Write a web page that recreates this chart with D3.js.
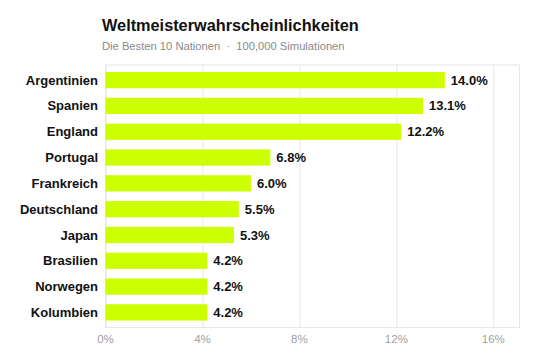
<!DOCTYPE html>
<html>

<head>
  <script src="https://d3js.org/d3.v7.min.js"></script>
  <style>
    body { margin: 0; background: #fff; }
    text { font-family: "Liberation Sans", Arial, Helvetica, sans-serif; }
    .grid line { stroke: #e6e6e6; stroke-width: 1; }
    .grid path { display: none; }
  </style>
</head>

<body>
  <script>
    const width = 540;
    const height = 360;

    // Daten
    const nations = ["Argentinien", "Spanien", "England", "Portugal", "Frankreich",
      "Deutschland", "Japan", "Brasilien", "Norwegen", "Kolumbien"];
    const chances = [14.0, 13.1, 12.2, 6.8, 6.0, 5.5, 5.3, 4.2, 4.2, 4.2];
    const xTicks = [0, 4, 8, 12, 16];

    const margin = { top: 65, right: 20.5, bottom: 32.5, left: 105.5 };

    const svg = d3.select("body")
      .append("svg")
      .attr("width", width)
      .attr("height", height);

    const x = d3.scaleLinear()
      .domain([0, d3.max(chances) * 1.22])
      .range([margin.left, width - margin.right]);

    const y = d3.scaleBand()
      .domain(nations)
      .range([margin.top, height - margin.bottom])
      .paddingInner(0.37)
      .paddingOuter(0.27);

    // Titel
    svg.append("text")
      .attr("x", 102)
      .attr("y", 31)
      .style("font-size", "16.3px")
      .style("font-weight", "bold")
      .attr("fill", "#111")
      .text("Weltmeisterwahrscheinlichkeiten");

    svg.append("text")
      .attr("x", 102)
      .attr("y", 50)
      .style("font-size", "11.2px")
      .style("white-space", "pre")
      .attr("fill", "#8a8a8a")
      .text("Die Besten 10 Nationen  ·  100,000 Simulationen");

    // Gitter
    svg.append("g")
      .attr("class", "grid")
      .attr("transform", `translate(0,${height - margin.bottom})`)
      .call(d3.axisBottom(x).tickValues(xTicks).tickSize(-(height - margin.top - margin.bottom)).tickFormat(""));

    // Rahmen
    svg.append("rect")
      .attr("x", margin.left)
      .attr("y", margin.top)
      .attr("width", width - margin.right - margin.left)
      .attr("height", height - margin.top - margin.bottom)
      .attr("fill", "none")
      .attr("stroke", "#e6e6e6");

    // Balken
    svg.selectAll("rect.bar")
      .data(nations)
      .enter()
      .append("rect")
      .attr("class", "bar")
      .attr("x", x(0))
      .attr("y", d => y(d))
      .attr("width", (d, i) => x(chances[i]) - x(0))
      .attr("height", y.bandwidth())
      .attr("fill", "#ccff00");

    // Werte
    svg.selectAll("text.val")
      .data(nations)
      .enter()
      .append("text")
      .attr("class", "val")
      .attr("x", (d, i) => x(chances[i]) + 6)
      .attr("y", d => y(d) + y.bandwidth() / 2)
      .attr("dy", "0.35em")
      .style("font-size", "13px")
      .style("font-weight", "bold")
      .attr("fill", "#111")
      .text((d, i) => chances[i].toFixed(1) + "%");

    // Länder
    svg.selectAll("text.name")
      .data(nations)
      .enter()
      .append("text")
      .attr("class", "name")
      .attr("x", 98)
      .attr("y", d => y(d) + y.bandwidth() / 2)
      .attr("dy", "0.35em")
      .attr("text-anchor", "end")
      .style("font-size", "13px")
      .style("font-weight", "bold")
      .attr("fill", "#111")
      .text(d => d);

    // x-Achse Beschriftung
    svg.selectAll("text.tick")
      .data(xTicks)
      .enter()
      .append("text")
      .attr("class", "tick")
      .attr("x", d => x(d))
      .attr("y", 343)
      .attr("text-anchor", "middle")
      .style("font-size", "11.5px")
      .attr("fill", "#a0a0a0")
      .text(d => d + "%");
  </script>
</body>

</html>
